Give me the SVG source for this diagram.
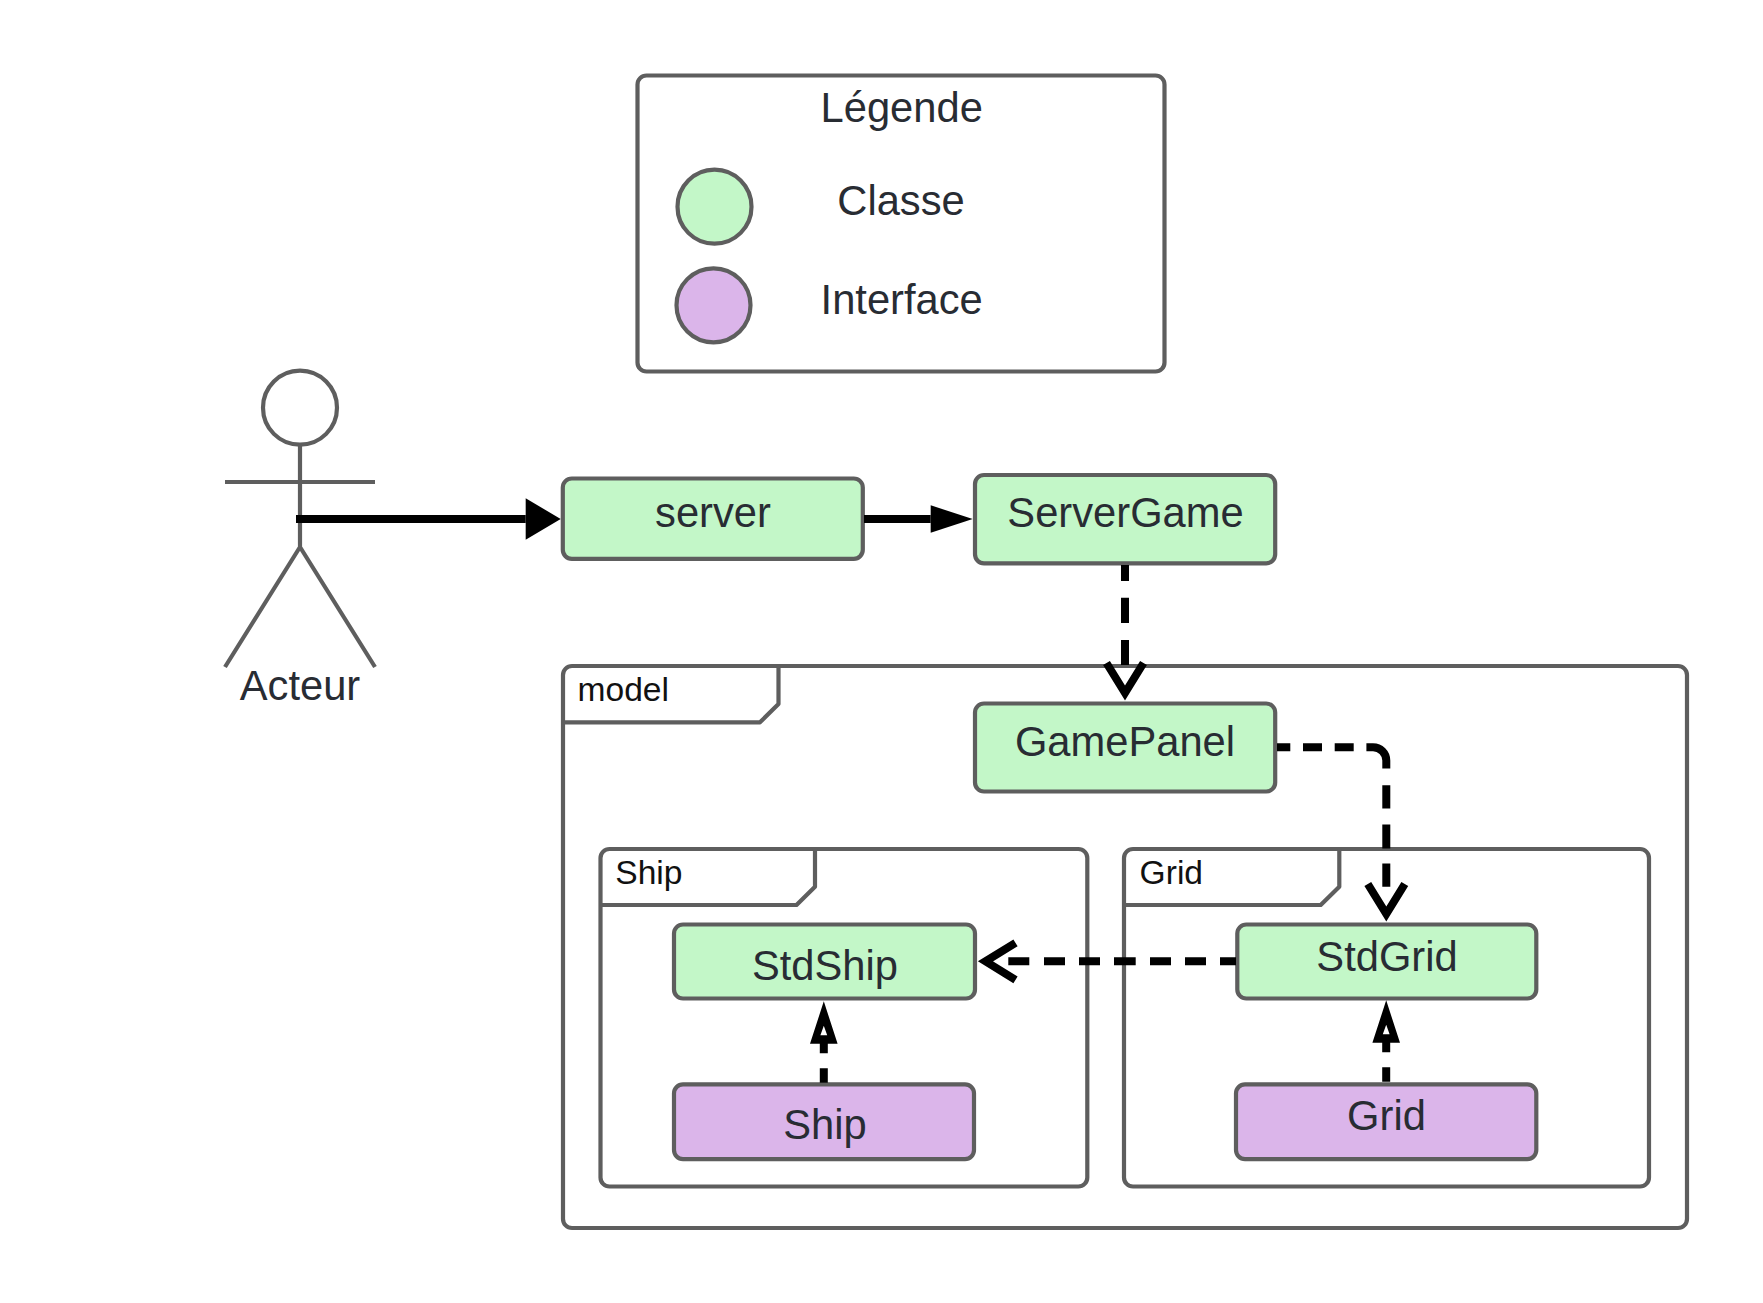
<svg xmlns="http://www.w3.org/2000/svg" width="1763" height="1303" viewBox="0 0 1763 1303">
<style>
text{font-family:"Liberation Sans",Arial,sans-serif;font-size:41.700px;fill:#282c33;text-anchor:middle}
text.f{font-size:33.600px;fill:#111;text-anchor:start}
.b{stroke:#5e5e5e;stroke-width:4.200;stroke-linejoin:round}
.fr{fill:#fff}.g{fill:#c3f7c8}.p{fill:#dbb5ea}
.t{fill:none}
.c{fill:none;stroke:#000;stroke-width:8}
</style>
<defs>
<marker id="open" markerUnits="userSpaceOnUse" markerWidth="60" markerHeight="60" refX="0" refY="0" orient="auto" overflow="visible"><path d="M-30-18.500L0 0L-30 18.500" fill="none" stroke="#000" stroke-width="8"/></marker>
<marker id="nar" markerUnits="userSpaceOnUse" markerWidth="60" markerHeight="40" refX="0" refY="0" orient="auto" overflow="visible"><path fill-rule="evenodd" d="M-1-13.800L41.500 0L-1 13.800ZM7.500-3.400V3.400L17 0Z" fill="#000"/></marker>
<marker id="big" markerUnits="userSpaceOnUse" markerWidth="50" markerHeight="50" refX="0" refY="0" orient="auto" overflow="visible"><path d="M0-20.700L35 0L0 20.700Z" fill="#000"/></marker>
<marker id="sm" markerUnits="userSpaceOnUse" markerWidth="50" markerHeight="40" refX="0" refY="0" orient="auto" overflow="visible"><path d="M0-13.700L42 0L0 13.700Z" fill="#000"/></marker>
</defs>
<g id="legend">
<rect class="b fr" x="637.500" y="75.500" width="527" height="296" rx="9"/>
<circle class="b g" cx="714.500" cy="206.700" r="37"/>
<circle class="b p" cx="713.500" cy="305.300" r="37"/>
<text x="901.700" y="122">Légende</text>
<text x="901" y="215">Classe</text>
<text x="901.700" y="314">Interface</text>
</g>
<g id="actor">
<circle cx="300" cy="407.700" r="37" class="t b"/>
<path class="t b" d="M300 444.700V547M225 482H375M225 667L300 547L375 667"/>
<text x="300" y="699.700">Acteur</text>
</g>
<g id="server"><rect class="b g" x="562.800" y="478.500" width="300" height="80.300" rx="9"/><text x="713" y="526.700">server</text></g>
<g id="servergame"><rect class="b g" x="975" y="475" width="300.200" height="88.300" rx="9"/><text x="1125.500" y="526.700">ServerGame</text></g>
<g id="model"><path class="b fr" d="M572 666H1678a9 9 0 0 1 9 9V1219a9 9 0 0 1-9 9H572a9 9 0 0 1-9-9V675a9 9 0 0 1 9-9Z"/><path class="b t" d="M778.500 666V704L760 722.300H563"/><text class="f" x="577.500" y="701">model</text></g>
<g id="gamepanel"><rect class="b g" x="975" y="703.500" width="300.200" height="88" rx="9"/><text x="1125" y="756.300">GamePanel</text></g>
<g id="ship-frame"><path class="b fr" d="M609.500 849H1078.300a9 9 0 0 1 9 9V1177.500a9 9 0 0 1-9 9H609.500a9 9 0 0 1-9-9V858a9 9 0 0 1 9-9Z"/><path class="b t" d="M815 849V886.700L796.500 905H600.500"/><text class="f" x="615.300" y="884">Ship</text></g>
<g id="grid-frame"><path class="b fr" d="M1133 849H1640a9 9 0 0 1 9 9V1177.500a9 9 0 0 1-9 9H1133a9 9 0 0 1-9-9V858a9 9 0 0 1 9-9Z"/><path class="b t" d="M1339.300 849V886.700L1320.700 905H1124"/><text class="f" x="1139.600" y="884">Grid</text></g>
<g id="stdship"><rect class="b g" x="674" y="924.500" width="301" height="74" rx="9"/><text x="825" y="979.800">StdShip</text></g>
<g id="stdgrid"><rect class="b g" x="1237.300" y="924.500" width="299" height="74" rx="9"/><text x="1387" y="970.500">StdGrid</text></g>
<g id="ship"><rect class="b p" x="674" y="1084.300" width="300" height="74.800" rx="9"/><text x="825" y="1139.300">Ship</text></g>
<g id="grid"><rect class="b p" x="1236" y="1084.300" width="300.300" height="74.800" rx="9"/><text x="1386.500" y="1130.300">Grid</text></g>
<g id="connectors">
<path class="c" d="M296 519H525.700" marker-end="url(#big)"/>
<path class="c" d="M864 519H930.700" marker-end="url(#sm)"/>
<path class="c" stroke-dasharray="16 16.700 25.300 17 25 300" d="M1125 565V693" marker-end="url(#open)"/>
<path class="c" stroke-dasharray="13.300 12.700 19 12.700 19 12.700 35.200 16.700 23.300 16 24 15 23.400 300" d="M1277 747.300H1373a13.300 13.300 0 0 1 13.300 13.300V914" marker-end="url(#open)"/>
<path class="c" stroke-dasharray="16 14 21 14 21 14.300 21.700 14 21 14 21 14.700 21 300" d="M1236 961.300H985.500" marker-end="url(#open)"/>
<path class="c" stroke-dasharray="14.400 15 10.400" d="M823.800 1082.700V1042.800" marker-end="url(#nar)"/>
<path class="c" stroke-dasharray="14.400 15 10.400" d="M1386.200 1081.700V1041.800" marker-end="url(#nar)"/>
</g>
</svg>
